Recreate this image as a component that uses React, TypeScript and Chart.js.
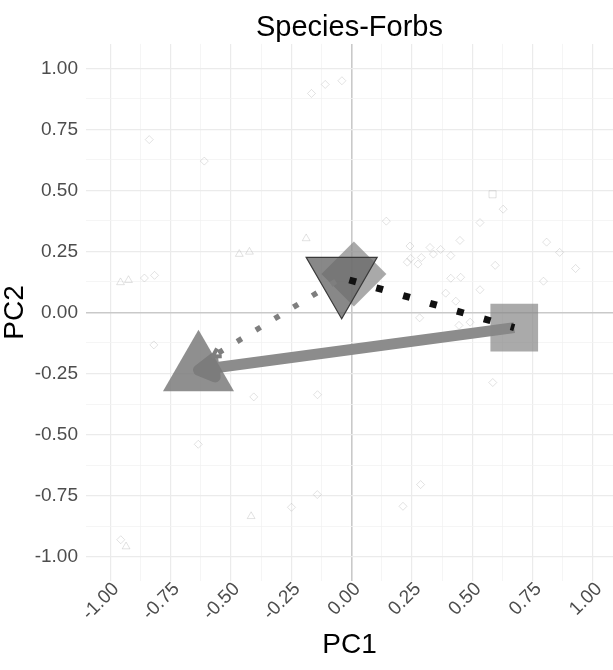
import React, { useEffect, useRef } from "react";
import { Chart, registerables } from "chart.js";

Chart.register(...registerables);

// ---------- text ----------
const titleText = "Species-Forbs";
const xTitle = "PC1";
const yTitle = "PC2";

// ---------- axes ----------
const majorTicks = [-1, -0.75, -0.5, -0.25, 0, 0.25, 0.5, 0.75, 1];
const tickLabels = ["-1.00", "-0.75", "-0.50", "-0.25", "0.00", "0.25", "0.50", "0.75", "1.00"];
const minorTicks = [-0.875, -0.625, -0.375, -0.125, 0.125, 0.375, 0.625, 0.875];
const xLimits = [-1.1, 1.083];
const yLimits = [-1.1, 1.1];

// ---------- faint site scores ----------
const siteDiamondX = [-0.166, -0.109, -0.04, -0.838, -0.61, -0.858, -0.816, 0.628, 0.144, 0.532, 0.449, 0.808, 0.862, 0.928, 0.242, 0.325, 0.369, 0.339, 0.411, 0.231, 0.245, 0.275, 0.289, 0.595, 0.411, 0.452, 0.795, 0.532, 0.39, 0.432, 0.282, 0.445, 0.491, 0.585, 0.286, 0.213, -0.819, -0.405, -0.141, -0.635, -0.142, -0.249, -0.956];
const siteDiamondY = [0.897, 0.934, 0.949, 0.708, 0.62, 0.141, 0.152, 0.423, 0.374, 0.368, 0.295, 0.288, 0.246, 0.18, 0.272, 0.266, 0.258, 0.239, 0.233, 0.206, 0.221, 0.198, 0.225, 0.193, 0.14, 0.144, 0.128, 0.093, 0.079, 0.046, -0.022, -0.053, -0.04, -0.287, -0.705, -0.794, -0.133, -0.346, -0.337, -0.54, -0.746, -0.798, -0.931];
const siteTriangleX = [-0.188, -0.465, -0.423, -0.957, -0.924, -0.416, -0.934];
const siteTriangleY = [0.303, 0.239, 0.248, 0.123, 0.132, -0.835, -0.959];
const siteSquareX = [0.584];
const siteSquareY = [0.484];

// ---------- group centroids ----------
const squareCentroid = [0.674, -0.062];
const triangleCentroid = [-0.634, -0.239];
const invTriangleCentroid = [-0.041, 0.142];
const diamondCentroid = [0.0095, 0.157];

// ---------- trajectories ----------
const thickArrowX = [0.674, -0.634];
const thickArrowY = [-0.062, -0.236];
const greyDottedX = [-0.041, -0.575];
const greyDottedY = [0.142, -0.18];
const blackDottedX = [-0.041, 0.674];
const blackDottedY = [0.142, -0.062];

const pts = (xs: number[], ys: number[]) => xs.map((x, i) => ({ x, y: ys[i] }));

const arrowHeadPlugin = {
  id: "arrowHeads",
  afterDatasetDraw(chart: any, args: any) {
    const ds: any = chart.data.datasets[args.index];
    if (!ds.arrowHead) return;
    const xs = chart.scales.x;
    const ys = chart.scales.y;
    const d = ds.data;
    const p1 = d[d.length - 2];
    const p2 = d[d.length - 1];
    const x1 = xs.getPixelForValue(p1.x), y1 = ys.getPixelForValue(p1.y);
    const x2 = xs.getPixelForValue(p2.x), y2 = ys.getPixelForValue(p2.y);
    const ang = Math.atan2(y2 - y1, x2 - x1);
    const h = ds.arrowHead;
    const a1 = ang + Math.PI - h.angle;
    const a2 = ang + Math.PI + h.angle;
    const ctx = chart.ctx;
    ctx.save();
    ctx.beginPath();
    ctx.moveTo(x2 + Math.cos(a1) * h.length, y2 + Math.sin(a1) * h.length);
    ctx.lineTo(x2, y2);
    ctx.lineTo(x2 + Math.cos(a2) * h.length, y2 + Math.sin(a2) * h.length);
    if (h.closed) ctx.closePath();
    ctx.lineJoin = "round";
    ctx.lineCap = "butt";
    ctx.lineWidth = h.width;
    ctx.strokeStyle = h.color;
    if (h.closed) {
      ctx.fillStyle = h.color;
      ctx.fill();
    }
    ctx.stroke();
    ctx.restore();
  },
};

export default function App() {
  const ref = useRef<HTMLCanvasElement>(null);

  useEffect(() => {
    const canvas = ref.current;
    if (!canvas) return;
    Chart.defaults.font.family = '"Liberation Sans", Arial, sans-serif';

    const allTicks = [...minorTicks, ...majorTicks].sort((a, b) => a - b);
    const setTicks = (scale: any) => {
      scale.ticks = allTicks.map((v) => ({ value: v }));
    };
    const labelFor = (v: any) => {
      const i = majorTicks.indexOf(Number(v));
      return i >= 0 ? tickLabels[i] : "";
    };
    const gridColor = (c: any) => {
      const v = c.tick ? c.tick.value : NaN;
      if (v === 0) return "#c9c9c9";
      return majorTicks.indexOf(v) >= 0 ? "#ebebeb" : "#f2f2f2";
    };
    const gridWidth = (c: any) => {
      const v = c.tick ? c.tick.value : NaN;
      if (v === 0) return 1.6;
      return majorTicks.indexOf(v) >= 0 ? 1.2 : 0.8;
    };

    const faint = "rgba(150,150,150,0.28)";

    const chart = new Chart(canvas, {
      type: "scatter",
      data: {
        datasets: [
          {
            label: "sites-diamond",
            data: pts(siteDiamondX, siteDiamondY),
            pointStyle: "rectRot",
            pointRadius: 4,
            borderColor: faint,
            backgroundColor: "rgba(0,0,0,0)",
            borderWidth: 1,
            order: 20,
          },
          {
            label: "sites-triangle",
            data: pts(siteTriangleX, siteTriangleY),
            pointStyle: "triangle",
            pointRadius: 4.5,
            borderColor: faint,
            backgroundColor: "rgba(0,0,0,0)",
            borderWidth: 1,
            order: 20,
          },
          {
            label: "sites-square",
            data: pts(siteSquareX, siteSquareY),
            pointStyle: "rect",
            pointRadius: 5,
            borderColor: faint,
            backgroundColor: "rgba(0,0,0,0)",
            borderWidth: 1,
            order: 20,
          },
          {
            label: "thick-arrow",
            data: pts(thickArrowX, thickArrowY),
            showLine: true,
            pointRadius: 0,
            borderColor: "#8c8c8c",
            borderWidth: 11,
            borderCapStyle: "butt",
            order: 15,
            arrowHead: { length: 18, angle: Math.PI / 6, width: 11, color: "#8c8c8c", closed: true },
          } as any,
          {
            label: "diamond",
            data: [{ x: diamondCentroid[0], y: diamondCentroid[1] }],
            pointStyle: "rectRot",
            pointRadius: 32.5,
            backgroundColor: "rgba(140,140,140,0.75)",
            borderWidth: 0,
            borderColor: "rgba(0,0,0,0)",
            order: 12,
          },
          {
            label: "square",
            data: [{ x: squareCentroid[0], y: squareCentroid[1] }],
            pointStyle: "rect",
            pointRadius: 33.7,
            backgroundColor: "rgba(134,134,134,0.7)",
            borderWidth: 0,
            borderColor: "rgba(0,0,0,0)",
            order: 11,
          },
          {
            label: "triangle",
            data: [{ x: triangleCentroid[0], y: triangleCentroid[1] }],
            pointStyle: "triangle",
            pointRadius: 41,
            backgroundColor: "rgba(120,120,120,0.83)",
            borderWidth: 0,
            borderColor: "rgba(0,0,0,0)",
            order: 10,
          },
          {
            label: "inv-triangle",
            data: [{ x: invTriangleCentroid[0], y: invTriangleCentroid[1] }],
            pointStyle: "triangle",
            pointRotation: 180,
            pointRadius: 41,
            backgroundColor: "rgba(106,106,106,0.8)",
            borderWidth: 1.2,
            borderColor: "#3a3a3a",
            order: 9,
          },
          {
            label: "grey-dotted",
            data: pts(greyDottedX, greyDottedY),
            showLine: true,
            pointRadius: 0,
            borderColor: "#7e7e7e",
            borderWidth: 5.5,
            borderDash: [5.5, 16.5],
            borderDashOffset: 15,
            borderCapStyle: "butt",
            order: 5,
            arrowHead: { length: 9, angle: Math.PI / 6, width: 4, color: "#7e7e7e", closed: false },
          } as any,
          {
            label: "black-dotted",
            data: pts(blackDottedX, blackDottedY),
            showLine: true,
            pointRadius: 0,
            borderColor: "#111111",
            borderWidth: 7,
            borderDash: [7, 21],
            borderDashOffset: 20,
            borderCapStyle: "butt",
            order: 4,
          },
        ],
      },
      options: {
        responsive: false,
        maintainAspectRatio: false,
        devicePixelRatio: 1,
        animation: false,
        layout: { autoPadding: false, padding: { top: 0, right: 0, bottom: 0, left: 0 } },
        plugins: {
          legend: { display: false },
          tooltip: { enabled: false },
          title: {
            display: true,
            text: titleText,
            fullSize: false,
            color: "#000000",
            font: { size: 29, weight: "normal", lineHeight: 1.1 },
            padding: { top: 12, bottom: 0 },
          },
        },
        scales: {
          x: {
            type: "linear",
            min: xLimits[0],
            max: xLimits[1],
            afterBuildTicks: setTicks,
            afterFit: (s: any) => {
              s.height = 89;
              s.paddingLeft = 0;
              s.paddingRight = 0;
            },
            border: { display: false },
            grid: { color: gridColor, lineWidth: gridWidth, drawTicks: false },
            ticks: {
              autoSkip: false,
              minRotation: 45,
              maxRotation: 45,
              padding: -3,
              labelOffset: 6,
              color: "#4d4d4d",
              font: { size: 19 },
              callback: (v: any) => labelFor(v),
            },
            title: {
              display: true,
              text: xTitle,
              color: "#000000",
              font: { size: 28, lineHeight: 1 },
              padding: { top: 0, bottom: 11 },
            },
          },
          y: {
            type: "linear",
            min: yLimits[0],
            max: yLimits[1],
            afterBuildTicks: setTicks,
            afterFit: (s: any) => {
              s.width = 86;
              s.paddingTop = 0;
              s.paddingBottom = 0;
            },
            border: { display: false },
            grid: { color: gridColor, lineWidth: gridWidth, drawTicks: false },
            ticks: {
              autoSkip: false,
              padding: 8,
              color: "#4d4d4d",
              font: { size: 19 },
              callback: (v: any) => labelFor(v),
            },
            title: {
              display: true,
              text: yTitle,
              color: "#000000",
              font: { size: 28, lineHeight: 1 },
              padding: { top: 1, bottom: 0 },
            },
          },
        },
      } as any,
      plugins: [arrowHeadPlugin],
    });

    return () => chart.destroy();
  }, []);

  return (
    <div style={{ position: "absolute", left: 0, top: 0, width: 613, height: 670, background: "#ffffff" }}>
      <canvas ref={ref} width={613} height={670} style={{ display: "block", width: 613, height: 670 }} />
    </div>
  );
}
